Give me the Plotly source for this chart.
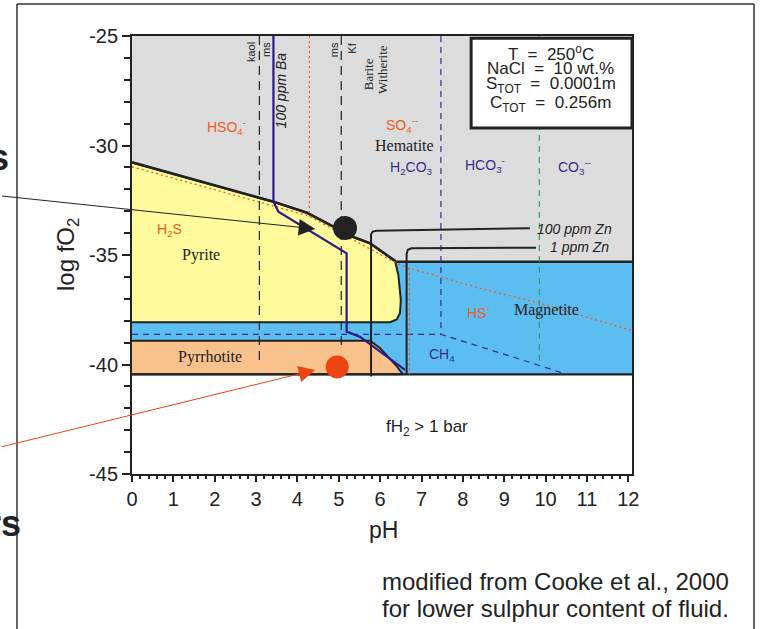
import plotly.graph_objects as go

# ---------------- data ----------------
x_ticks = [0, 1, 2, 3, 4, 5, 6, 7, 8, 9, 10, 11, 12]
y_ticks = [-45, -40, -35, -30, -25]
y_tick_text = ["-45", "-40", "-35", "-30", "-25"]
x_max = 12.09

# region boundaries
pyrite_top_x = [0, 3.42, 4.23, 5.35, 5.76, 6.36]
pyrite_top_y = [-30.77, -32.57, -33.07, -34.18, -34.47, -35.27]
pyrite_right_x = [6.36, 6.44, 6.50, 6.48, 6.40, 6.24, 0]
pyrite_right_y = [-35.27, -35.91, -37.05, -37.66, -37.94, -38.07, -38.07]
pyrrhotite_x = [0, 5.76, 6.0, 6.24, 6.40, 6.50, 6.55, 0]
pyrrhotite_y = [-38.91, -38.91, -39.26, -39.72, -40.07, -40.33, -40.45, -40.45]
magnetite_top = -35.31
h2_limit = -40.45

# reaction lines
ba_x = [3.42, 3.42, 3.54, 5.19, 5.19, 5.51, 6.60]
ba_y = [-25, -32.57, -33.02, -34.92, -38.5, -38.73, -40.25]
zn100_x = [5.78, 5.78, 5.82, 5.92, 9.62]
zn100_y = [-40.55, -34.05, -33.93, -33.89, -33.78]
zn1_x = [6.64, 6.64, 6.67, 6.76, 9.77]
zn1_y = [-40.45, -34.95, -34.76, -34.69, -34.67]
hs_x = [0, 4.25, 6.40, 6.68, 7.45, 8.41, 9.86, 10.83, 12.09]
hs_y = [-30.97, -33.2, -35.38, -35.6, -35.99, -36.52, -37.2, -37.74, -38.45]
hs_vert_x = [[4.29, 4.29], [6.71, 6.71]]
hs_vert_y = [[-25, -33.25], [-35.6, -40.45]]
kaol_ms_x = [3.08, 3.08]
kaol_ms_y = [-25, -40.02]
ms_kf_x = [5.06, 5.06]
ms_kf_y = [-25, -39.19]
barite_x = [7.47, 7.47]
barite_y = [-25, -38.62]
ch4_x = [0, 7.47, 9.70, 10.42]
ch4_y = [-38.62, -38.62, -39.95, -40.40]
carb_x = [9.85, 9.85]
carb_y = [-25, -40.0]

# points and arrows
black_pt = (5.15, -33.77)
red_pt = (4.96, -40.11)
black_arrow = {"tail": (-3.18, -32.3), "head": (4.43, -33.81)}
red_arrow = {"tail": (-3.18, -43.77), "head": (4.43, -40.25)}

GRAY = "#dcdcdc"
YELLOW = "#fffb9c"
BLUE = "#5bbdf0"
ORANGE = "#f9c28c"
ORG_TXT = "#f05a22"
PURPLE_TXT = "#3b2a8f"
PURPLE = "#2e1a87"

fig = go.Figure()

def poly(x, y, fill, lc=None, lw=0):
    fig.add_trace(go.Scatter(x=x, y=y, mode="lines", fill="toself", fillcolor=fill,
                             line=dict(color=lc or fill, width=lw), hoverinfo="skip",
                             showlegend=False))

def line(x, y, color, width, dash="solid"):
    fig.add_trace(go.Scatter(x=x, y=y, mode="lines", line=dict(color=color, width=width, dash=dash),
                             hoverinfo="skip", showlegend=False))

poly([0, x_max, x_max, 0], [-25, -25, h2_limit, h2_limit], GRAY)
poly([0, x_max, x_max, 0], [magnetite_top, magnetite_top, h2_limit, h2_limit], BLUE)
poly(pyrite_top_x + pyrite_right_x, pyrite_top_y + pyrite_right_y, YELLOW, "#222", 2)
poly(pyrrhotite_x, pyrrhotite_y, ORANGE, "#222", 2)

line(pyrite_top_x, pyrite_top_y, "#222", 2.6)
line([6.36, x_max], [magnetite_top, magnetite_top], "#222", 2.6)
line([0, x_max], [h2_limit, h2_limit], "#222", 2.2)

line(kaol_ms_x, kaol_ms_y, "#222", 1.2, "9px,6px")
line(ms_kf_x, ms_kf_y, "#222", 1.2, "9px,6px")
line(barite_x, barite_y, PURPLE_TXT, 1.2, "6px,5px")
line(ch4_x, ch4_y, PURPLE_TXT, 1.2, "6px,5px")
line(carb_x, carb_y, "#2a9d6a", 1.1, "6px,5px")
line(hs_x, hs_y, ORG_TXT, 1.3, "2px,3px")
for vx, vy in zip(hs_vert_x, hs_vert_y):
    line(vx, vy, ORG_TXT, 1.2, "2px,3px")
line(ba_x, ba_y, PURPLE, 2.2)
line(zn100_x, zn100_y, "#222", 2)
line(zn1_x, zn1_y, "#222", 2)

fig.add_trace(go.Scatter(x=[black_pt[0]], y=[black_pt[1]], mode="markers",
                         marker=dict(size=24, color="#222"), showlegend=False, hoverinfo="skip"))
fig.add_trace(go.Scatter(x=[red_pt[0]], y=[red_pt[1]], mode="markers",
                         marker=dict(size=23, color="#ec4412"), showlegend=False, hoverinfo="skip"))

for arr, col in ((black_arrow, "#222"), (red_arrow, "#ec4412")):
    fig.add_annotation(x=arr["head"][0], y=arr["head"][1], ax=arr["tail"][0], ay=arr["tail"][1],
                       xref="x", yref="y", axref="x", ayref="y", text="", showarrow=True,
                       arrowhead=2, arrowsize=3.3, arrowwidth=1, arrowcolor=col)

SANS = "Liberation Sans, Arial"
SERIF = "Liberation Serif, Times New Roman"

def label(x, y, text, size, color="#222", family=SANS, angle=0, xref="x", yref="y",
          xanchor="center", yanchor="middle"):
    fig.add_annotation(x=x, y=y, xref=xref, yref=yref, text=text, showarrow=False,
                       textangle=angle, xanchor=xanchor, yanchor=yanchor,
                       font=dict(size=size, color=color, family=family))

label(2.88, -25.73, "kaol", 11, angle=-90)
label(3.24, -25.64, "ms", 11, angle=-90)
label(3.61, -27.47, "<i>100 ppm Ba</i>", 14, angle=-90)
label(4.89, -25.64, "ms", 11, angle=-90)
label(5.31, -25.55, "Kf", 11, angle=-90)
label(5.71, -26.74, "Barite", 13, family=SERIF, angle=-90)
label(6.07, -26.55, "Witherite", 13, family=SERIF, angle=-90)
label(2.29, -29.14, "HSO<sub>4</sub><sup>-</sup>", 14, ORG_TXT)
label(6.52, -29.06, "SO<sub>4</sub><sup>--</sup>", 14, ORG_TXT)
label(6.60, -29.98, "Hematite", 16, family=SERIF)
label(6.76, -31.04, "H<sub>2</sub>CO<sub>3</sub>", 14, PURPLE_TXT)
label(8.53, -30.89, "HCO<sub>3</sub><sup>-</sup>", 14, PURPLE_TXT)
label(10.71, -30.97, "CO<sub>3</sub><sup>--</sup>", 14, PURPLE_TXT)
label(0.91, -33.86, "H<sub>2</sub>S", 14, ORG_TXT)
label(1.67, -35.0, "Pyrite", 16, family=SERIF)
label(8.37, -37.59, "HS<sup>-</sup>", 14, ORG_TXT)
label(10.02, -37.51, "Magnetite", 16, family=SERIF)
label(7.49, -39.57, "CH<sub>4</sub>", 14, PURPLE_TXT)
label(1.89, -39.64, "Pyrrhotite", 16, family=SERIF)
label(7.13, -42.91, "fH<sub>2</sub> > 1 bar", 17)
label(10.71, -33.83, "<i>100 ppm Zn</i>", 14)
label(10.83, -34.62, "<i>1 ppm Zn</i>", 14)

# condition box
fig.add_shape(type="rect", xref="x", yref="y", x0=8.2, x1=x_max, y0=-29.2, y1=-25.1,
              fillcolor="white", line=dict(color="#222", width=3), layer="above")
label(10.13, -25.79, "T  =  250<sup>o</sup>C", 17)
label(10.13, -26.47, "NaCl  =  10 wt.%", 17)
label(10.13, -27.24, "S<sub>TOT</sub>  =  0.0001m", 17)
label(10.13, -28.12, "C<sub>TOT</sub>  =  0.256m", 17)

# axis titles & captions (paper coords)
label(0.502, -0.128, "pH", 23, xref="paper", yref="paper")
label(-0.13, 0.5, "log fO<sub>2</sub>", 24, xref="paper", yref="paper", angle=-90)
label(0.496, -0.246, "modified from Cooke et al., 2000", 24, xref="paper", yref="paper", xanchor="left")
label(0.496, -0.306, "for lower sulphur content of fluid.", 24, xref="paper", yref="paper", xanchor="left")
label(-0.242, 0.722, "<b>s</b>", 36, xref="paper", yref="paper", xanchor="right")
label(-0.218, -0.114, "<b>rs</b>", 36, xref="paper", yref="paper", xanchor="right")

# outer slide frame
for x0, y0, x1, y1 in ((-0.23, 1.073, 1.244, 1.073), (-0.23, 1.073, -0.23, -0.4), (1.244, 1.073, 1.244, -0.4)):
    fig.add_shape(type="line", xref="paper", yref="paper", x0=x0, y0=y0, x1=x1, y1=y1,
                  line=dict(color="#333", width=1.5))

fig.update_layout(
    width=760, height=629, margin=dict(l=132, r=128, t=36, b=155),
    plot_bgcolor="white", paper_bgcolor="white", showlegend=False,
    font=dict(family=SANS, color="#222"),
    xaxis=dict(range=[0, x_max], tickvals=x_ticks, ticks="outside", ticklen=6, tickwidth=1.5,
               tickcolor="#222", minor=dict(dtick=0.2, ticks="outside", ticklen=3, tickcolor="#222"),
               showline=True, mirror=True, linewidth=2, linecolor="#222",
               showgrid=False, zeroline=False, tickfont=dict(size=20)),
    yaxis=dict(range=[-45, -25], tickvals=y_ticks, ticktext=y_tick_text, ticks="outside", ticklen=8,
               tickwidth=1.5, tickcolor="#222",
               minor=dict(dtick=1, ticks="outside", ticklen=6, tickcolor="#222"),
               showline=True, mirror=True, linewidth=2, linecolor="#222",
               showgrid=False, zeroline=False, tickfont=dict(size=20)),
)

fig.write_html("out.html")
